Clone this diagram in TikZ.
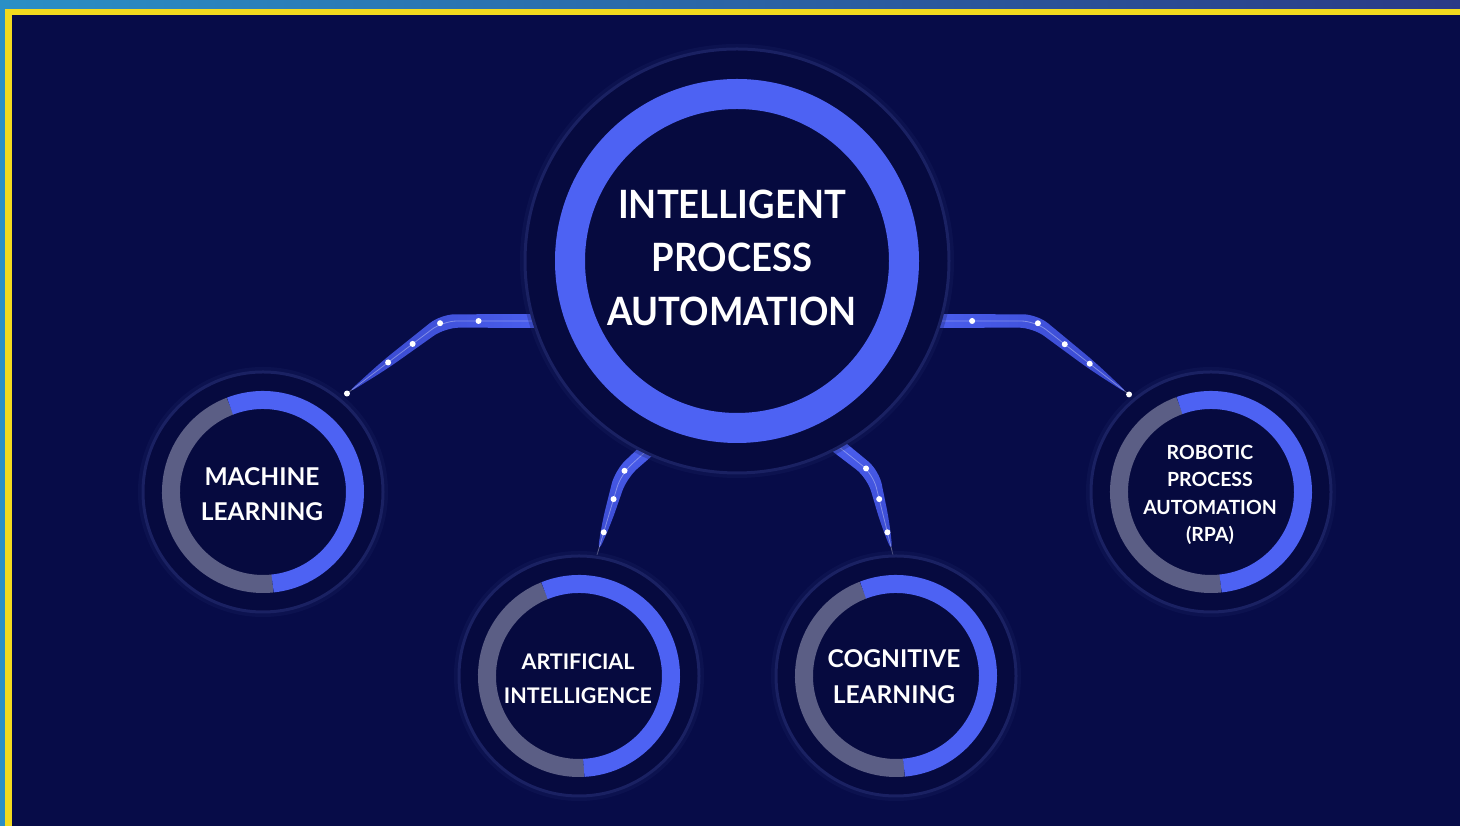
\documentclass[tikz,border=0pt]{standalone}
\usepackage{fontspec}
\setmainfont{Lato}
\newfontfamily\titlefont{Lato}[FakeStretch = 0.935]
\usetikzlibrary{calc}

\definecolor{bgnavy}{HTML}{070C48}
\definecolor{halonavy}{HTML}{060A3F}
\definecolor{haloedge}{HTML}{1A2162}
\definecolor{ringblue}{HTML}{4D62F3}
\definecolor{ringgray}{HTML}{5B5E85}
\definecolor{bandblue}{HTML}{4D61F2}
\definecolor{banddark}{HTML}{3848CC}
\definecolor{frameblue}{HTML}{2A8FC6}
\definecolor{frametop}{HTML}{2B3A86}
\definecolor{frameyellow}{HTML}{F2DA1E}

\begin{document}
\begin{tikzpicture}[x = 1pt, y = 1pt,
    every node/.style = {inner sep = 0pt, text = white, align = center},
    halo/.style = {shape = circle, fill = halonavy, draw = haloedge, line width = 3pt,
        preaction = {draw = haloedge, line width = 10pt, draw opacity = .3}},
    dot/.style = {shape = circle, fill = white, minimum size = 6pt},
    wire/.style = {draw = white, draw opacity = .35, line width = .8pt, rounded corners = 14pt},
    band/.style = {rounded corners = 14pt},
    bigring/.style = {draw = ringblue, line width = 30pt},
    ring/.style = {line width = 18pt},
    bigtext/.style = {font = \titlefont\fontsize{39}{53.5}\selectfont\bfseries},
    midtext/.style = {font = \fontsize{24.5}{35.5}\selectfont\bfseries},
    smalltext/.style = {font = \fontsize{21.5}{34}\selectfont\bfseries},
    tinytext/.style = {font = \fontsize{19.5}{27.2}\selectfont\bfseries}]

    \useasboundingbox (0,0) rectangle (1460,826);
    % frame
    \shade[left color = frameblue, right color = frametop] (0,0) rectangle (1460,826);
    \fill[frameyellow] (5,0) rectangle (1460,817);
    \fill[bgnavy] (12,0) rectangle (1460,811);

    % connector points
    \coordinate (LS) at (570,505);
    \coordinate (LB) at (443,505);
    \coordinate (LE) at (345,431);
    \coordinate (RS) at (904,505);
    \coordinate (RB) at (1035,505);
    \coordinate (RE) at (1131,430);
    \coordinate (AS) at (665,392);
    \coordinate (AB) at (621,352);
    \coordinate (AE) at (597,271);
    \coordinate (CS) at (815,398);
    \coordinate (CB) at (873,352);
    \coordinate (CE) at (893,271);

    % bands
    \shade[band, left color = banddark, right color = bandblue]
        ($(LS)+(90:7)$) -- ($(LB)+(108.5:7)$) -- ($($(LB)!.6!(LE)$)+(127:4.5)$) -- (LE)
        -- ($($(LB)!.6!(LE)$)+(-53:4.5)$) -- ($(LB)+(-71.5:7)$) -- ($(LS)+(-90:7)$) -- cycle;
    \shade[band, left color = bandblue, right color = banddark]
        ($(RS)+(90:7)$) -- ($(RB)+(71:7)$) -- ($($(RB)!.6!(RE)$)+(52:4.5)$) -- (RE)
        -- ($($(RB)!.6!(RE)$)+(-128:4.5)$) -- ($(RB)+(-109:7)$) -- ($(RS)+(-90:7)$) -- cycle;
    \shade[band, top color = bandblue, bottom color = banddark]
        ($(AS)+(132:8)$) -- ($(AB)+(147.75:7)$) -- ($($(AB)!.6!(AE)$)+(163.5:4.5)$) -- (AE)
        -- ($($(AB)!.6!(AE)$)+(-16.5:4.5)$) -- ($(AB)+(-32.25:7)$) -- ($(AS)+(-48:8)$) -- cycle;
    \shade[band, top color = bandblue, bottom color = banddark]
        ($(CS)+(51.7:8)$) -- ($(CB)+(32.8:7)$) -- ($($(CB)!.6!(CE)$)+(13.9:4.5)$) -- (CE)
        -- ($($(CB)!.6!(CE)$)+(193.9:4.5)$) -- ($(CB)+(212.8:7)$) -- ($(CS)+(231.7:8)$) -- cycle;

    \draw[wire] (LS) -- node[dot, pos = .72] (L1) {} (LB) -- node[dot, pos = .03] (L2) {}
        node[dot, pos = .31] (L3) {} node[dot, pos = .56] (L4) {} node[dot, pos = .98] (L5) {} (LE);
    \draw[wire] (RS) -- node[dot, pos = .52] (R1) {} (RB) -- node[dot, pos = .03] (R2) {}
        node[dot, pos = .31] (R3) {} node[dot, pos = .57] (R4) {} node[dot, pos = .98] (R5) {} (RE);
    \draw[wire] (AS) -- node[dot, pos = .92] (A1) {} (AB) -- node[dot, pos = .31] (A2) {}
        node[dot, pos = .72] (A3) {} (AE);
    \draw[wire] (CS) -- node[dot, pos = .88] (C1) {} (CB) -- node[dot, pos = .31] (C2) {}
        node[dot, pos = .72] (C3) {} (CE);

    % main circle
    \node[halo, minimum size = 424pt] (IPA) at (737,565) {};
    \draw[bigring] (IPA) circle[radius = 167];
    \node[bigtext] (IPAt) at (732,568.5) {INTELLIGENT\\PROCESS\\AUTOMATION};

    % small circles
    \node[halo, minimum size = 240pt] (ML) at (263,334) {};
    \draw[ring, ringgray] ($(ML)+(111:92)$) arc[start angle = 111, end angle = 276, radius = 92];
    \draw[ring, ringblue] ($(ML)+(111:92)$) arc[start angle = 111, end angle = -84, radius = 92];
    \node[midtext] (MLt) at (262,332) {MACHINE\\LEARNING};

    \node[halo, minimum size = 240pt] (AI) at (579,150) {};
    \draw[ring, ringgray] ($(AI)+(112:92)$) arc[start angle = 112, end angle = 273, radius = 92];
    \draw[ring, ringblue] ($(AI)+(112:92)$) arc[start angle = 112, end angle = -87, radius = 92];
    \node[smalltext] (AIt) at (578,147.5) {ARTIFICIAL\\INTELLIGENCE};

    \node[halo, minimum size = 240pt] (CL) at (896,150) {};
    \draw[ring, ringgray] ($(CL)+(111:92)$) arc[start angle = 111, end angle = 275, radius = 92];
    \draw[ring, ringblue] ($(CL)+(111:92)$) arc[start angle = 111, end angle = -85, radius = 92];
    \node[midtext] (CLt) at (894,149.5) {COGNITIVE\\LEARNING};

    \node[halo, minimum size = 240pt] (RPA) at (1211,334) {};
    \draw[ring, ringgray] ($(RPA)+(110:92)$) arc[start angle = 110, end angle = 276, radius = 92];
    \draw[ring, ringblue] ($(RPA)+(110:92)$) arc[start angle = 110, end angle = -84, radius = 92];
    \node[tinytext] (RPAt) at (1210,331) {ROBOTIC\\PROCESS\\AUTOMATION\\(RPA)};
\end{tikzpicture}
\end{document}
